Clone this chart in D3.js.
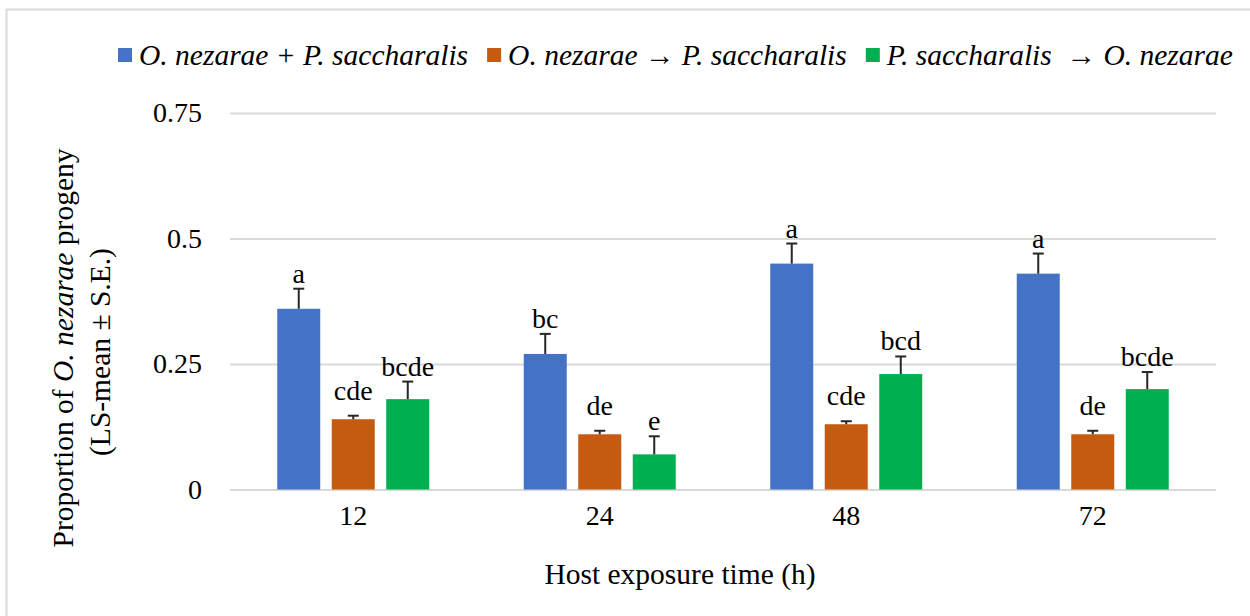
<!DOCTYPE html>
<html>
<head>
<meta charset="utf-8">
<script src="https://cdn.jsdelivr.net/npm/d3@7"></script>
<style>
  html, body { margin: 0; padding: 0; background: #fff; }
  svg { display: block; }
  svg text { font-family: 'Liberation Serif', 'Times New Roman', serif !important; fill: #000; }
</style>
</head>
<body>
<svg id="chart" width="1250" height="616" font-family="'Liberation Serif', serif"></svg>
<script>
const categories = ["12", "24", "48", "72"];
const seriesNames = [
  "O. nezarae + P. saccharalis",
  "O. nezarae \u2192 P. saccharalis",
  "P. saccharalis  \u2192 O. nezarae"
];
const seriesColors = ["#4472C4", "#C55A11", "#00B050"];
const meanCombined = [0.36, 0.27, 0.45, 0.43];
const meanOnFirst = [0.14, 0.11, 0.13, 0.11];
const meanPsFirst = [0.18, 0.07, 0.23, 0.20];
const seCombined = [0.04, 0.04, 0.04, 0.04];
const seOnFirst = [0.007, 0.007, 0.006, 0.007];
const sePsFirst = [0.035, 0.036, 0.035, 0.034];
const lettersCombined = ["a", "bc", "a", "a"];
const lettersOnFirst = ["cde", "de", "cde", "de"];
const lettersPsFirst = ["bcde", "e", "bcd", "bcde"];
const yTicks = [0, 0.25, 0.5, 0.75];
const yTickLabels = ["0", "0.25", "0.5", "0.75"];

const means = [meanCombined, meanOnFirst, meanPsFirst];
const ses = [seCombined, seOnFirst, sePsFirst];
const letters = [lettersCombined, lettersOnFirst, lettersPsFirst];

const SERIF = "'Liberation Serif', 'Times New Roman', serif";
const svg = d3.select("#chart");
const FONT = 28;

// chart area border
svg.append("rect").attr("x", 6.5).attr("y", 9.5).attr("width", 1260).attr("height", 620)
  .attr("fill", "#fff").attr("stroke", "#d9d9d9").attr("stroke-width", 2);

const plot = { left: 230, right: 1216, top: 113, bottom: 489.5 };

const x0 = d3.scaleBand().domain(categories).range([plot.left, plot.right]).padding(0);
const x1 = d3.scaleBand().domain(d3.range(seriesNames.length))
  .range([0, x0.bandwidth()]).paddingInner(0.211).paddingOuter(0.867);
const y = d3.scaleLinear().domain([0, 0.75]).range([plot.bottom, plot.top]);

// gridlines + y tick labels
const yAxis = d3.axisLeft(y).tickValues(yTicks)
  .tickFormat((d, i) => yTickLabels[i]).tickSize(-(plot.right - plot.left)).tickPadding(28);
const gy = svg.append("g").attr("transform", `translate(${plot.left},0)`).call(yAxis)
  .attr("font-family", SERIF).attr("font-size", FONT);
gy.select(".domain").remove();
gy.selectAll(".tick line").attr("stroke", "#d9d9d9").attr("stroke-width", 2);
gy.selectAll(".tick text").attr("fill", "#000");

// x axis labels
const xAxis = d3.axisBottom(x0).tickSize(0).tickPadding(16);
const gx = svg.append("g").attr("transform", `translate(0,${plot.bottom})`).call(xAxis)
  .attr("font-family", SERIF).attr("font-size", FONT);
gx.select(".domain").remove();
gx.selectAll(".tick text").attr("fill", "#000");

// bars
const rows = [];
categories.forEach((c, ci) => {
  seriesNames.forEach((s, si) => {
    rows.push({ c, ci, si, v: means[si][ci], se: ses[si][ci], lab: letters[si][ci] });
  });
});

svg.append("g").selectAll("rect.bar").data(rows).enter().append("rect")
  .attr("class", "bar")
  .attr("x", d => x0(d.c) + x1(d.si))
  .attr("y", d => y(d.v))
  .attr("width", x1.bandwidth())
  .attr("height", d => y(0) - y(d.v))
  .attr("fill", d => seriesColors[d.si]);

// error bars (upper only)
const capW = 11;
const eb = svg.append("g").attr("stroke", "#262626").attr("stroke-width", 2);
rows.forEach(d => {
  const cx = x0(d.c) + x1(d.si) + x1.bandwidth() / 2;
  eb.append("line").attr("x1", cx).attr("x2", cx).attr("y1", y(d.v)).attr("y2", y(d.v + d.se));
  eb.append("line").attr("x1", cx - capW / 2).attr("x2", cx + capW / 2)
    .attr("y1", y(d.v + d.se)).attr("y2", y(d.v + d.se));
});

// significance letters
svg.append("g").selectAll("text").data(rows).enter().append("text")
  .attr("x", d => x0(d.c) + x1(d.si) + x1.bandwidth() / 2)
  .attr("y", d => Math.min(y(d.v + d.se) - 6, y(d.v) - 19))
  .attr("text-anchor", "middle")
  .attr("font-family", SERIF)
  .attr("font-size", FONT)
  .text(d => d.lab);

// x axis title
svg.append("text").attr("x", (plot.left + plot.right) / 2 - 43).attr("y", 584)
  .attr("text-anchor", "middle").attr("font-family", SERIF).attr("font-size", 29.5)
  .text("Host exposure time (h)");

// y axis title (two lines)
const yt = svg.append("text").attr("transform", "translate(73,348) rotate(-90)")
  .attr("text-anchor", "middle").attr("font-family", SERIF).attr("font-size", 29.5);
yt.append("tspan").attr("x", 0).attr("y", 0).text("Proportion of ");
yt.append("tspan").attr("font-style", "italic").text("O. nezarae");
yt.append("tspan").text(" progeny");
svg.append("text").attr("transform", "translate(110,352) rotate(-90)")
  .attr("text-anchor", "middle").attr("font-family", SERIF).attr("font-size", 29.5)
  .text("(LS-mean \u00b1 S.E.)");

// legend
const leg = svg.append("g");
let lx = 118;
seriesNames.forEach((s, i) => {
  leg.append("rect").attr("x", lx).attr("y", 48).attr("width", 14).attr("height", 14)
    .attr("fill", seriesColors[i]);
  const t = leg.append("text").attr("x", lx + 21).attr("y", 65)
    .attr("font-family", SERIF).attr("font-size", 29.5).attr("font-style", "italic")
    .attr("xml:space", "preserve")
    .text(s);
  lx += 21 + t.node().getComputedTextLength() + 19;
});
</script>
</body>
</html>
